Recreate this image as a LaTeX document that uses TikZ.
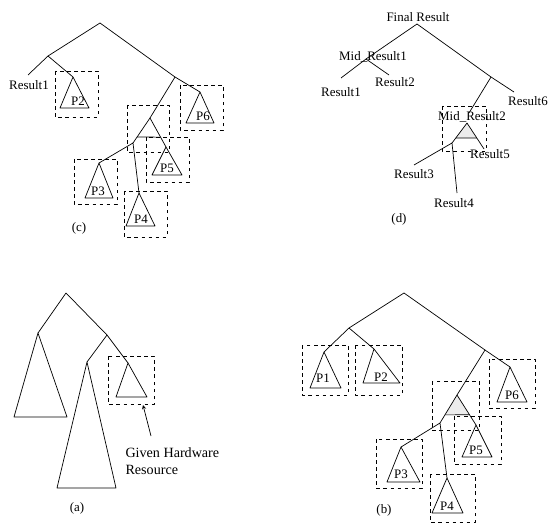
\documentclass[tikz,border=0pt]{standalone}
\usepackage{fontspec}
\setmainfont{Liberation Serif}
\usepackage{tikz}
\usetikzlibrary{calc,arrows.meta}

\begin{document}
\begin{tikzpicture}[x=0.85pt,y=-0.85pt,> = stealth,line width=0.6pt,line join=round,
  resbox/.style={dashed,line width=0.6pt},
  lbl/.style={font=\fontsize{11}{12}\selectfont,inner sep=1pt},
  midtri/.style={fill=gray!15}]
\useasboundingbox (0,0) rectangle (548,523);

% ---------------- (c) ----------------
\coordinate (c-root) at (100,23);
\coordinate (c-l) at (48,56);
\coordinate (c-r) at (175,77);
\coordinate (c-e1) at (28,75);
\coordinate (c-p2) at (73,77);
\coordinate (c-p6) at (200,92);
\coordinate (c-m) at (150,118);
\coordinate (c-n) at (133,143);
\coordinate (c-p5) at (166,147);
\coordinate (c-p3) at (99,163);
\coordinate (c-p4) at (139,193);
\coordinate (c-bl) at ($(c-m)!0.76!(c-n)$);
\coordinate (c-br) at ($(c-m)!0.66!(c-p5)$);

\draw (c-l) -- (c-root) -- (c-r);
\draw (c-e1) -- (c-l) -- (c-p2);
\draw (c-p6) -- (c-r) -- (c-m);
\draw (c-n) -- (c-m) -- (c-p5);
\draw (c-bl) -- (c-br);
\draw (c-p3) -- (c-n) -- (c-p4);

\draw (c-p2) -- (60,108) -- (89,108) -- cycle;
\draw (c-p6) -- (186,123) -- (214,123) -- cycle;
\draw (c-p5) -- (152,175) -- (182,175) -- cycle;
\draw (c-p3) -- (85,198) -- (113,198) -- cycle;
\draw (c-p4) -- (126,226) -- (155,226) -- cycle;

\draw[resbox] (55,71) rectangle (98,117);
\draw[resbox] (180,85) rectangle (223,130);
\draw[resbox] (127,105) rectangle (169,152);
\draw[resbox] (146,137) rectangle (189,182);
\draw[resbox] (74,159) rectangle (117,204);
\draw[resbox] (124,191) rectangle (167,237);

\node[lbl] (c-res1) at (29,85) {Result1};
\node[lbl] (c-t2) at (78,101) {P2};
\node[lbl] (c-t6) at (203,116) {P6};
\node[lbl] (c-t5) at (167,168) {P5};
\node[lbl] (c-t3) at (98,191) {P3};
\node[lbl] (c-t4) at (141,219) {P4};
\node[lbl] (c-cap) at (79,228) {(c)};

% ---------------- (d) ----------------
\node[lbl] (d-fin) at (418,17) {Final Result};
\coordinate (d-root) at (417,24);
\coordinate (d-m1) at (366,59);
\coordinate (d-r) at (491,77);
\coordinate (d-e1) at (341,78);
\coordinate (d-e2) at (389,75);
\coordinate (d-e6) at (514,92);
\coordinate (d-m) at (467,123);
\coordinate (d-n) at (452,143);
\coordinate (d-e5) at (484,149);
\coordinate (d-e3) at (414,165);
\coordinate (d-e4) at (457,193);
\coordinate (d-bl) at ($(d-m)!0.75!(d-n)$);
\coordinate (d-br) at ($(d-m)!0.58!(d-e5)$);

\fill[gray!15] (d-m) -- (d-bl) -- (d-br) -- cycle;
\draw (d-m1) -- (d-root) -- (d-r);
\draw (d-e1) -- (d-m1) -- (d-e2);
\draw (d-e6) -- (d-r) -- (469,113);
\draw (d-n) -- (d-m) -- (d-e5);
\draw (d-bl) -- (d-br);
\draw (d-e3) -- (d-n) -- (d-e4);
\draw[resbox] (442,106) rectangle (486,151);

\node[lbl] (d-mid1) at (373,57) {Mid\_Result1};
\node[lbl] (d-res1) at (341,92) {Result1};
\node[lbl] (d-res2) at (395,82) {Result2};
\node[lbl] (d-res6) at (528,101) {Result6};
\node[lbl] (d-mid2) at (472,117) {Mid\_Result2};
\node[lbl] (d-res5) at (490,154) {Result5};
\node[lbl] (d-res3) at (414,174) {Result3};
\node[lbl] (d-res4) at (454,203) {Result4};
\node[lbl] (d-cap) at (399,219) {(d)};

% ---------------- (a) ----------------
\coordinate (a-root) at (66,293);
\coordinate (a-l) at (38,333);
\coordinate (a-r) at (107,335);
\coordinate (a-big) at (87,362);
\coordinate (a-small) at (128,363);

\draw (a-l) -- (a-root) -- (a-r);
\draw (a-big) -- (a-r) -- (a-small);
\draw (a-l) -- (14,417) -- (67,417) -- cycle;
\draw (a-big) -- (57,488) -- (116,488) -- cycle;
\draw (a-small) -- (116,397) -- (147,397) -- cycle;
\draw[resbox] (108,356) rectangle (154,404);
\coordinate (a-ptr) at (143,405);

\node[lbl,font=\fontsize{12}{14}\selectfont,align=left,anchor=west] (a-hw) at (124,461) {Given Hardware\\Resource};
\draw[->] (151,436) -- (a-ptr);
\node[lbl] (a-cap) at (77,508) {(a)};

% ---------------- (b) ----------------
\coordinate (b-root) at (404,293);
\coordinate (b-l) at (349,328);
\coordinate (b-r) at (485,350);
\coordinate (b-p1) at (324,352);
\coordinate (b-p2) at (374,349);
\coordinate (b-p6) at (510,367);
\coordinate (b-m) at (457,395);
\coordinate (b-n) at (440,423);
\coordinate (b-p5) at (476,425);
\coordinate (b-p3) at (401,447);
\coordinate (b-p4) at (447,478);
\coordinate (b-bl) at ($(b-m)!0.71!(b-n)$);
\coordinate (b-br) at ($(b-m)!0.66!(b-p5)$);

\fill[gray!15] (b-m) -- (b-bl) -- (b-br) -- cycle;
\draw (b-l) -- (b-root) -- (b-r);
\draw (b-p1) -- (b-l) -- (b-p2);
\draw (b-p6) -- (b-r) -- (b-m);
\draw (b-n) -- (b-m) -- (b-p5);
\draw (b-bl) -- (b-br);
\draw (b-p3) -- (b-n) -- (b-p4);

\draw (b-p1) -- (310,388) -- (341,388) -- cycle;
\draw (b-p2) -- (363,383) -- (400,383) -- cycle;
\draw (b-p6) -- (497,402) -- (527,402) -- cycle;
\draw (b-p5) -- (462,457) -- (492,457) -- cycle;
\draw (b-p3) -- (387,482) -- (420,482) -- cycle;
\draw (b-p4) -- (432,513) -- (463,513) -- cycle;

\draw[resbox] (302,345) rectangle (348,395);
\draw[resbox] (355,345) rectangle (402,395);
\draw[resbox] (489,359) rectangle (535,408);
\draw[resbox] (432,381) rectangle (479,430);
\draw[resbox] (454,416) rectangle (501,464);
\draw[resbox] (376,439) rectangle (422,488);
\draw[resbox] (430,474) rectangle (475,522);

\node[lbl] (b-t1) at (323,378) {P1};
\node[lbl] (b-t2) at (381,377) {P2};
\node[lbl] (b-t6) at (512,395) {P6};
\node[lbl] (b-t5) at (476,450) {P5};
\node[lbl] (b-t3) at (401,474) {P3};
\node[lbl] (b-t4) at (447,506) {P4};
\node[lbl] (b-cap) at (384,510) {(b)};
\end{tikzpicture}
\end{document}
